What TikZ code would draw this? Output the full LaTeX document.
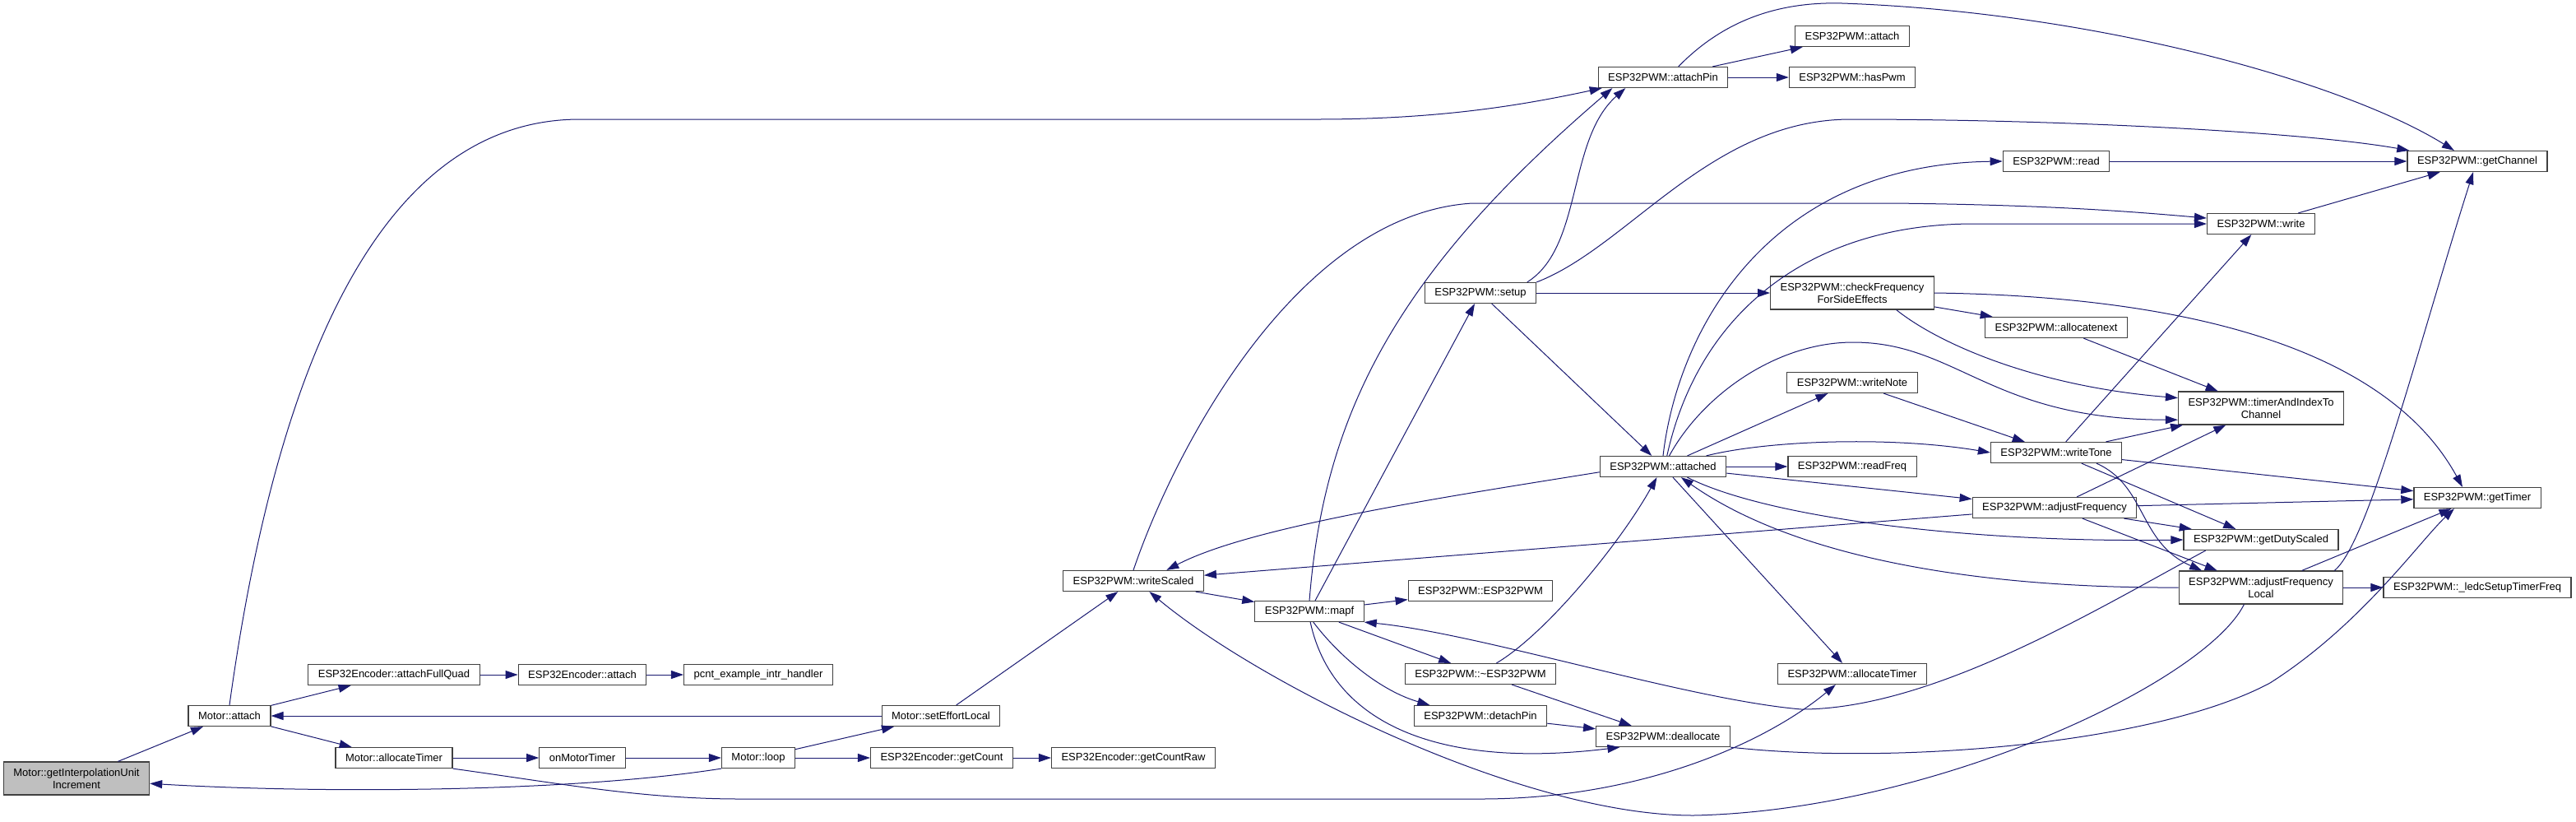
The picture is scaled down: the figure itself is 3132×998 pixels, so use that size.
\documentclass[tikz,border=0pt]{standalone}
\usepackage{fontspec}
\setmainfont{Liberation Sans}
\usetikzlibrary{arrows.meta}

\definecolor{callblue}{HTML}{191970}
\definecolor{nodeline}{HTML}{404040}
\definecolor{rootgray}{HTML}{BFBFBF}
\newcommand{\fnfont}{\fontsize{6.5}{7.5}\selectfont}

\begin{document}
\begin{tikzpicture}[x=0.5pt, y=0.5pt,
    fn/.style={rectangle, draw=nodeline, line width=0.6pt, fill=white, font=\fnfont, inner xsep=6pt, inner ysep=0pt, minimum height=12.5pt, align=center},
    fn2/.style={fn, minimum height=20pt},
    root/.style={fn2, fill=rootgray},
    call/.style={draw=callblue, line width=0.5pt, -{Triangle[length=7.5pt, width=5pt]}}]

    \useasboundingbox (0,0) rectangle (3132,-998);

    % Motor side
    \node[root] (getInterp) at (93,-946) {Motor::getInterpolationUnit\\Increment};
    \node[fn] (mattach) at (279,-870) {Motor::attach};
    \node[fn] (encFullQuad) at (479,-820) {ESP32Encoder::attachFullQuad};
    \node[fn] (mAllocTimer) at (479,-921) {Motor::allocateTimer};
    \node[fn] (encAttach) at (708,-820) {ESP32Encoder::attach};
    \node[fn] (onMotorTimer) at (708,-921) {onMotorTimer};
    \node[fn] (pcnt) at (922,-820) {pcnt\_example\_intr\_handler};
    \node[fn] (mloop) at (922,-921) {Motor::loop};
    \node[fn] (setEffort) at (1144,-870) {Motor::setEffortLocal};
    \node[fn] (getCount) at (1145,-921) {ESP32Encoder::getCount};
    \node[fn] (getCountRaw) at (1378,-921) {ESP32Encoder::getCountRaw};

    % ESP32PWM side
    \node[fn] (writeScaled) at (1378,-706) {ESP32PWM::writeScaled};
    \node[fn] (mapf) at (1592,-743) {ESP32PWM::mapf};
    \node[fn] (setup) at (1800,-356) {ESP32PWM::setup};
    \node[fn] (ctor) at (1800,-718) {ESP32PWM::ESP32PWM};
    \node[fn] (dtor) at (1800,-819) {ESP32PWM::\textasciitilde ESP32PWM};
    \node[fn] (detachPin) at (1800,-870) {ESP32PWM::detachPin};
    \node[fn] (attachPin) at (2022,-94) {ESP32PWM::attachPin};
    \node[fn] (attached) at (2022,-567) {ESP32PWM::attached};
    \node[fn] (deallocate) at (2022,-895) {ESP32PWM::deallocate};
    \node[fn] (pwmAttach) at (2252,-44) {ESP32PWM::attach};
    \node[fn] (hasPwm) at (2252,-94) {ESP32PWM::hasPwm};
    \node[fn2] (checkFreq) at (2252,-356) {ESP32PWM::checkFrequency\\ForSideEffects};
    \node[fn] (writeNote) at (2252,-465) {ESP32PWM::writeNote};
    \node[fn] (readFreq) at (2252,-567) {ESP32PWM::readFreq};
    \node[fn] (allocTimer) at (2252,-819) {ESP32PWM::allocateTimer};
    \node[fn] (read) at (2500,-196) {ESP32PWM::read};
    \node[fn] (allocatenext) at (2500,-398) {ESP32PWM::allocatenext};
    \node[fn] (writeTone) at (2500,-550) {ESP32PWM::writeTone};
    \node[fn] (adjFreq) at (2498,-617) {ESP32PWM::adjustFrequency};
    \node[fn] (write) at (2749,-272) {ESP32PWM::write};
    \node[fn2] (timerIdx) at (2749,-496) {ESP32PWM::timerAndIndexTo\\Channel};
    \node[fn] (dutyScaled) at (2749,-656) {ESP32PWM::getDutyScaled};
    \node[fn2] (adjFreqLocal) at (2749,-714) {ESP32PWM::adjustFrequency\\Local};
    \node[fn] (getChannel) at (3012,-196) {ESP32PWM::getChannel};
    \node[fn] (getTimer) at (3012,-605) {ESP32PWM::getTimer};
    \node[fn] (ledc) at (3012,-714) {ESP32PWM::\_ledcSetupTimerFreq};

    % Straight calls
    \foreach \a/\b in {getInterp/mattach, mattach/encFullQuad, mattach/mAllocTimer, setEffort/mattach,
        encFullQuad/encAttach, encAttach/pcnt, mAllocTimer/onMotorTimer, onMotorTimer/mloop,
        mloop/setEffort, mloop/getCount, getCount/getCountRaw, setEffort/writeScaled,
        writeScaled/mapf, adjFreq/writeScaled, mapf/setup, mapf/ctor, mapf/dtor,
        setup/checkFreq, setup/attached, dtor/deallocate, detachPin/deallocate,
        attachPin/pwmAttach, attachPin/hasPwm, attached/writeNote, attached/readFreq,
        attached/adjFreq, attached/allocTimer, checkFreq/allocatenext, writeNote/writeTone,
        read/getChannel, allocatenext/timerIdx, writeTone/write, writeTone/timerIdx,
        writeTone/getTimer, writeTone/dutyScaled, adjFreq/timerIdx, adjFreq/getTimer,
        adjFreq/dutyScaled, adjFreq/adjFreqLocal, write/getChannel, adjFreqLocal/getTimer,
        adjFreqLocal/ledc} {
        \draw[call] (\a) -- (\b);
    }

    % Curved calls, Motor side
    \draw[call] (mloop.south west) .. controls (700,-962) and (400,-965) .. (getInterp.-4);
    \draw[call] (mattach.north) .. controls (320,-560) and (420,-145) .. (705,-145) -- (1600,-145)
        .. controls (1750,-145) and (1850,-128) .. (attachPin.190);
    \draw[call] (mAllocTimer.south east) .. controls (680,-952) and (780,-971) .. (900,-971) -- (1800,-971)
        .. controls (2000,-971) and (2150,-900) .. (allocTimer.213);

    % Curved calls into and out of writeScaled / mapf
    \draw[call] (writeScaled.north) .. controls (1430,-540) and (1580,-260) .. (1790,-247) -- (2300,-247)
        .. controls (2500,-249) and (2600,-258) .. (write.174);
    \draw[call] (attached.185) .. controls (1750,-605) and (1520,-640) .. (writeScaled.18);
    \draw[call] (adjFreqLocal.-135) .. controls (2680,-830) and (2350,-985) .. (2059,-991)
        .. controls (1850,-991) and (1530,-830) .. (writeScaled.-34);
    \draw[call] (mapf.north) .. controls (1610,-500) and (1700,-330) .. (attachPin.192);
    \draw[call] (mapf.-70) .. controls (1630,-800) and (1680,-840) .. (detachPin.168);
    \draw[call] (mapf.-85) .. controls (1620,-880) and (1750,-935) .. (deallocate.194);
    \draw[call] (dutyScaled.191) .. controls (2550,-740) and (2350,-862) .. (2190,-862)
        .. controls (2050,-850) and (1800,-770) .. (mapf.south east);

    % Curved calls, ESP32PWM side
    \draw[call] (setup.13) .. controls (1925,-300) and (1905,-170) .. (attachPin.196);
    \draw[call] (setup.north east) .. controls (1980,-300) and (2080,-145) .. (2250,-145)
        .. controls (2500,-145) and (2800,-160) .. (getChannel.171);
    \draw[call] (dtor.34) .. controls (1880,-770) and (1970,-660) .. (attached.-120);
    \draw[call] (deallocate.south east) .. controls (2300,-930) and (2620,-905) .. (2760,-830)
        .. controls (2870,-760) and (2940,-660) .. (getTimer.205);
    \draw[call] (attachPin.35) .. controls (2100,-20) and (2170,-2) .. (2240,-4)
        .. controls (2550,-15) and (2850,-100) .. (getChannel.155);
    \draw[call] (attached.north) .. controls (2040,-400) and (2150,-200) .. (read.west);
    \draw[call] (attached.70) .. controls (2065,-380) and (2200,-272) .. (2400,-272) -- (write.west);
    \draw[call] (attached.60) .. controls (2070,-480) and (2160,-416) .. (2253,-416)
        .. controls (2380,-416) and (2420,-510) .. (timerIdx.188);
    \draw[call] (attached.14) .. controls (2150,-535) and (2300,-530) .. (writeTone.west);
    \draw[call] (attached.-24) .. controls (2150,-630) and (2400,-660) .. (dutyScaled.west);
    \draw[call] (adjFreqLocal.west) .. controls (2450,-715) and (2200,-690) .. (attached.-31);
    \draw[call] (checkFreq.east) .. controls (2650,-360) and (2900,-420) .. (getTimer.144);
    \draw[call] (checkFreq.-21) .. controls (2360,-420) and (2480,-470) .. (timerIdx.173);
    \draw[call] (writeTone.-15) .. controls (2610,-590) and (2600,-660) .. (adjFreqLocal.164);
    \draw[call] (adjFreqLocal.13) .. controls (2880,-660) and (2940,-420) .. (getChannel.-111);

\end{tikzpicture}
\end{document}
